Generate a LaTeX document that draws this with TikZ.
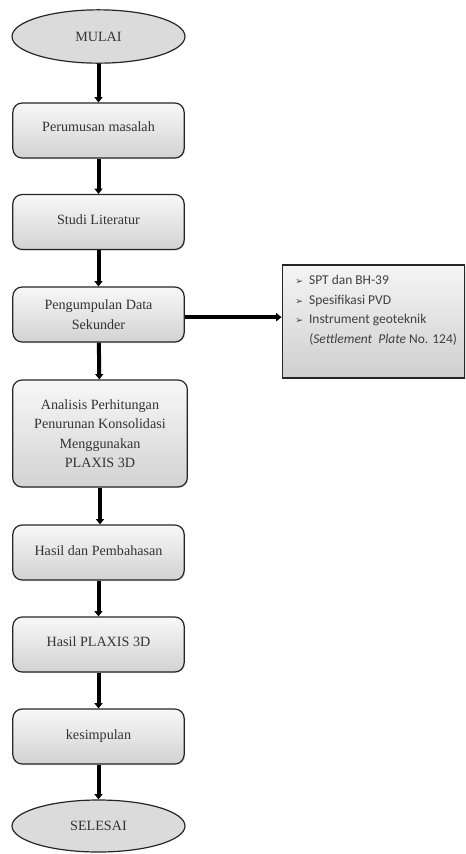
\documentclass[tikz,border=0pt]{standalone}
\usepackage{fontspec}
\setmainfont{Liberation Serif}
\newfontfamily\carlitofont{Carlito}
\newfontfamily\djvfont{DejaVu Sans}
\usetikzlibrary{shapes.geometric,shadows,arrows.meta}
\begin{document}
\begin{tikzpicture}[x=0.75pt,y=-0.75pt,
  proc/.style={draw=black!85, line width=0.9pt, rounded corners=7pt,
    top color=gray!6, bottom color=gray!35,
    drop shadow={shadow xshift=0.8pt,shadow yshift=-0.8pt,fill=gray!40},
    minimum width=128.5pt, minimum height=41.25pt, inner sep=2pt,
    align=center, text=black!80, font=\fontsize{10.6}{14.5}\selectfont},
  term/.style={ellipse, draw=black!85, line width=0.9pt, fill=gray!28,
    minimum width=129.75pt, minimum height=40pt, inner sep=0pt,
    text=black!80, font=\fontsize{10.6}{12}\selectfont},
  info/.style={draw=black!85, line width=0.9pt,
    top color=gray!8, bottom color=gray!38,
    drop shadow={shadow xshift=0.8pt,shadow yshift=-0.8pt,fill=gray!40},
    minimum width=137pt, minimum height=84.75pt},
  flow/.style={line width=3pt, -{Triangle[length=4pt,width=6pt]}, black}]
\useasboundingbox (0,0) rectangle (466,854);
\node[term] (mulai) at (98.5,36.5) {MULAI};
\node[proc] (b1) at (98.5,130.5) {\raisebox{6pt}{Perumusan masalah}};
\node[proc] (b2) at (98.5,222) {\raisebox{3pt}{Studi Literatur}};
\node[proc] (b3) at (98.5,314.5) {Pengumpulan Data\\Sekunder};
\node[proc, minimum width=131pt, minimum height=80.25pt] (b4) at (100,433.5)
  {Analisis Perhitungan\\Penurunan Konsolidasi\\Menggunakan\\PLAXIS 3D};
\node[proc] (b5) at (98.5,552.5) {\raisebox{3pt}{Hasil dan Pembahasan}};
\node[proc] (b6) at (98.5,644.5) {\raisebox{4pt}{Hasil PLAXIS 3D}};
\node[proc] (b7) at (98.5,736.5) {\raisebox{2pt}{kesimpulan}};
\node[term, minimum height=39pt] (selesai) at (98.5,826) {SELESAI};
\node[info] (data) at (373.5,321.5) {};
\node[anchor=north west, inner sep=0pt, align=left, text=black!75,
  font=\carlitofont\fontsize{10.1}{14.6}\selectfont] (items) at (295,275)
  {{\djvfont\fontsize{7}{7}\selectfont ➢}\hspace{4.5pt}SPT dan BH-39\\
   {\djvfont\fontsize{7}{7}\selectfont ➢}\hspace{4.5pt}Spesifikasi PVD\\
   {\djvfont\fontsize{7}{7}\selectfont ➢}\hspace{4.5pt}Instrument geoteknik\\
   \hspace{10.5pt}(\textit{Settlement\ \ Plate} No. 124)};
\draw[flow] (mulai) -- (b1);
\draw[flow] (b1) -- (b2);
\draw[flow] (b2) -- (b3);
\draw[flow] (b3) -- (b4);
\draw[flow] (b4) -- (b5.north -| b4.south);
\draw[flow] (b5) -- (b6);
\draw[flow] (b6) -- (b7);
\draw[flow] (b7) -- (selesai);
\draw[flow] ([yshift=-2pt]b3.east) -- ([yshift=-2pt]b3.east -| data.west);
\end{tikzpicture}
\end{document}
